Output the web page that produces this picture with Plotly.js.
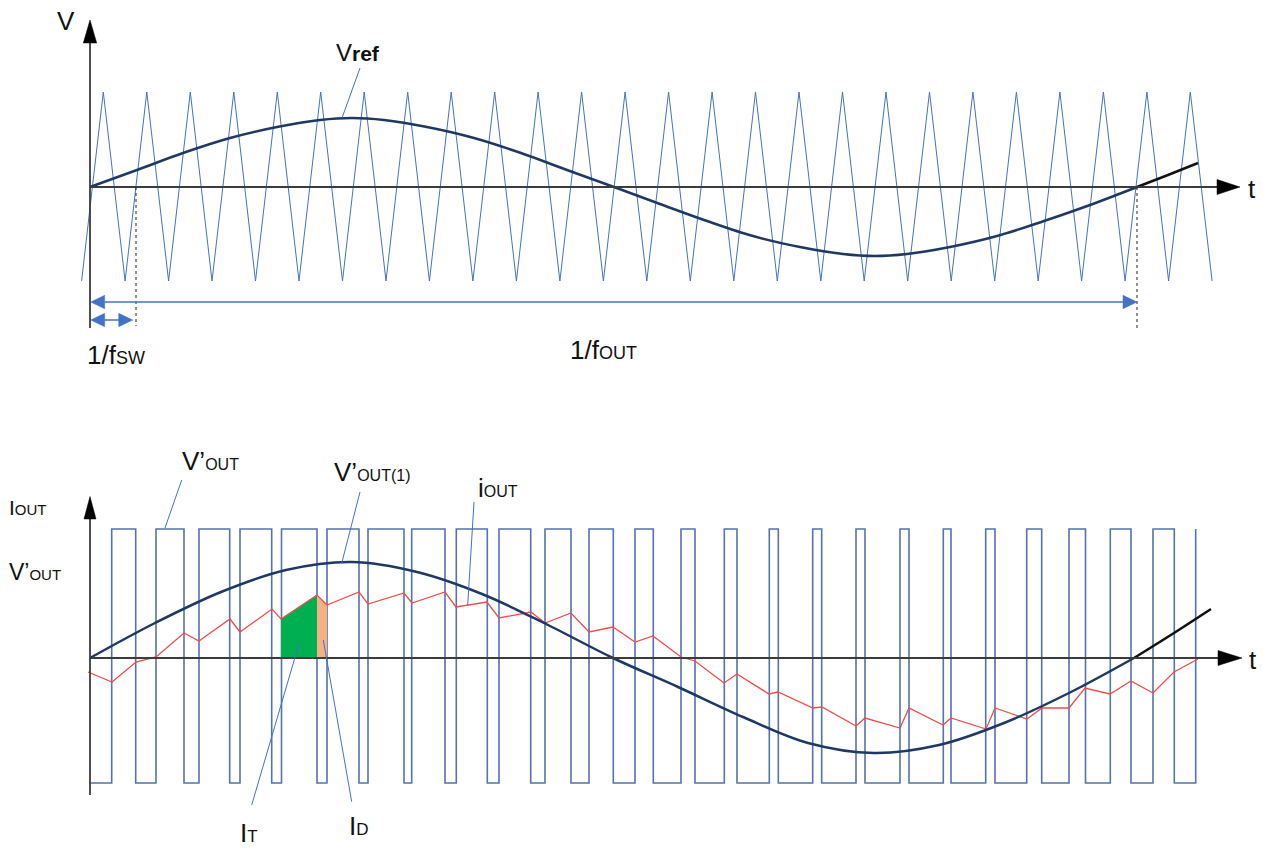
<!DOCTYPE html>
<html><head><meta charset="utf-8">
<script src="https://cdn.plot.ly/plotly-3.0.1.min.js"></script>
<style>html,body{margin:0;padding:0;background:#fff;}#chart{width:1263px;height:849px;}</style>
</head><body><div id="chart"></div>
<script>
// ---------- DATA (time in arbitrary units from origin, amplitudes in arbitrary units) ----------
// Top panel: triangular carrier vertices (valleys and peaks)
const carrierValleyT = [-8.4, 35.1, 78.6, 122.0, 165.5, 209.0, 252.5, 296.0, 339.4, 382.9, 426.4, 469.9, 513.4, 556.8, 600.3, 643.8, 687.3, 730.8, 774.2, 817.7, 861.2, 904.7, 948.2, 991.6, 1035.1, 1078.6, 1122.1];
const carrierPeakT   = [13.3, 56.8, 100.3, 143.8, 187.3, 230.7, 274.2, 317.7, 361.2, 404.7, 448.1, 491.6, 535.1, 578.6, 622.1, 665.5, 709.0, 752.5, 796.0, 839.5, 882.9, 926.4, 969.9, 1013.4, 1056.9, 1100.3];
const carrierHigh = 95;
const carrierLow = -94;
// Top panel: reference sine Vref
const vrefT = [0, 47, 93, 140, 187, 230, 262, 294, 337, 384, 431, 477, 524, 570, 617, 663, 710, 753, 785, 817, 860, 907, 954, 1000, 1047];
const vrefV = [0, 17, 34, 49, 60, 67, 69, 67, 60, 49, 34, 17, 0, -17, -34, -49, -60, -67, -69, -67, -60, -49, -34, -18, 0];
const vrefTailT = [1047, 1078, 1108];
const vrefTailV = [0, 12, 24];
// Bottom panel: PWM output V'OUT switching instants (alternating rise / fall, starting low)
const pwmEdges = [21.7, 45.7, 66, 94, 109, 139.7, 150, 181.7, 191.5, 227, 237, 269, 278, 314, 321.7, 355, 366.3, 397.3, 409, 440.7, 455, 481, 499, 523.3, 545, 563.3, 591, 605, 634.3, 647, 679.3, 688.3, 722.7, 731.7, 766, 775, 810, 819, 853.3, 861, 895.7, 905, 936.7, 951.7, 979, 995.5, 1020.3, 1041, 1063, 1084.3, 1105.7];
const pwmHigh = 129;
const pwmLow = -125;
// Bottom panel: fundamental V'OUT(1)
const voutT = [0, 65, 131, 196, 262, 327, 392, 458, 523, 588, 653, 718, 784, 849, 914, 979, 1044];
const voutV = [0, 35, 66, 88, 96, 86, 64, 33, 0, -29, -59, -85, -95, -87, -65, -35, 0];
const voutTailT = [1044, 1084, 1121];
const voutTailV = [0, 25, 49];
// Bottom panel: output current iOUT
const ioutT = [-2, 22, 46, 66, 94, 109, 140, 150, 182, 191, 227, 237, 269, 278, 314, 322, 355, 366, 397, 409, 441, 455, 481, 499, 523, 545, 563, 591, 605, 634, 647, 679, 688, 723, 732, 766, 775, 810, 819, 853, 861, 896, 905, 937, 952, 979, 995, 1020, 1041, 1063, 1084, 1106, 1108];
const ioutV = [-14, -24, -4, 1, 25, 17, 39, 26, 49, 39, 63, 53, 66, 54, 65, 55, 66, 51, 56, 40, 46, 35, 45, 26, 31, 16, 22, 1, -3, -25, -16, -36, -34, -50, -49, -68, -60, -70, -50, -67, -60, -71, -50, -61, -50, -50, -30, -36, -23, -35, -14, -2, -1];
// indices in iOUT marking transistor (IT) and diode (ID) conduction intervals
const itStart = 9, itEnd = 10, idEnd = 11;
// periods
const tSw = 43;      // 1/fSW
const tOut = 1047;   // 1/fOUT

// ---------- BUILD TRACES ----------
const carT = [], carV = [];
for (let i = 0; i < carrierValleyT.length; i++) {
  carT.push(carrierValleyT[i]); carV.push(carrierLow);
  if (i < carrierPeakT.length) { carT.push(carrierPeakT[i]); carV.push(carrierHigh); }
}
const sqT = [0], sqV = [pwmLow];
let level = pwmLow;
pwmEdges.forEach(e => {
  sqT.push(e); sqV.push(level);
  level = (level === pwmLow) ? pwmHigh : pwmLow;
  sqT.push(e); sqV.push(level);
});

const BLUE = '#4472c4', NAVY = '#1f3864';
const traces = [
  {x: carT, y: carV, xaxis: 'x', yaxis: 'y', mode: 'lines', line: {color: BLUE, width: 1}},
  {x: vrefT, y: vrefV, xaxis: 'x', yaxis: 'y', mode: 'lines', line: {color: NAVY, width: 2.5, shape: 'spline'}},
  {x: vrefTailT, y: vrefTailV, xaxis: 'x', yaxis: 'y', mode: 'lines', line: {color: '#111', width: 2.5, shape: 'spline'}},
  {x: sqT, y: sqV, xaxis: 'x2', yaxis: 'y2', mode: 'lines', line: {color: '#5573ad', width: 1.6}},
  {x: [ioutT[itStart], ioutT[itStart], ioutT[itEnd], ioutT[itEnd]], y: [0, ioutV[itStart], ioutV[itEnd], 0],
   xaxis: 'x2', yaxis: 'y2', mode: 'lines', fill: 'toself', fillcolor: '#00b050', line: {width: 0}},
  {x: [ioutT[itEnd], ioutT[itEnd], ioutT[idEnd], ioutT[idEnd]], y: [0, ioutV[itEnd], ioutV[idEnd], 0],
   xaxis: 'x2', yaxis: 'y2', mode: 'lines', fill: 'toself', fillcolor: '#f4b183', line: {width: 0}},
  {x: ioutT, y: ioutV, xaxis: 'x2', yaxis: 'y2', mode: 'lines', line: {color: '#f24b4b', width: 1.3}},
  {x: voutT, y: voutV, xaxis: 'x2', yaxis: 'y2', mode: 'lines', line: {color: NAVY, width: 2.5, shape: 'spline'}},
  {x: voutTailT, y: voutTailV, xaxis: 'x2', yaxis: 'y2', mode: 'lines', line: {color: '#111', width: 2.5, shape: 'spline'}}
];

// ---------- DECORATIONS ----------
const shapes = [];
function seg(xr, yr, x0, y0, x1, y1, color, width, dash) {
  shapes.push({type: 'line', xref: xr, yref: yr, x0, y0, x1, y1, line: {color, width, dash: dash || 'solid'}});
}
function tri(xr, yr, pts, color) {
  const p = 'M ' + pts.map(q => q[0] + ' ' + q[1]).join(' L ') + ' Z';
  shapes.push({type: 'path', xref: xr, yref: yr, path: p, fillcolor: color, line: {color, width: 0.5}});
}
const AX = '#3c3c3c';
// top axes
seg('x', 'y', 0, 0, 1127, 0, AX, 1.8);
tri('x', 'y', [[1127, 7.5], [1150, 0], [1127, -7.5]], '#000');
seg('x', 'y', 0, -141, 0, 144, AX, 1.8);
tri('x', 'y', [[-6.7, 144], [0, 167], [6.7, 144]], '#000');
// bottom axes
seg('x2', 'y2', 0, 0, 1128, 0, AX, 1.8);
tri('x2', 'y2', [[1128, 7.5], [1152, 0], [1128, -7.5]], '#000');
seg('x2', 'y2', 0, -137, 0, 139, AX, 1.8);
tri('x2', 'y2', [[-6, 139], [0, 161.5], [6, 139]], '#000');
// dashed period markers
seg('x', 'y', tSw + 3, 0, tSw + 3, -139, '#222', 1, '3px,3px');
seg('x', 'y', tOut, 0, tOut, -141, '#222', 1, '3px,3px');
// dimension arrows
function dimArrow(y, x0, x1) {
  seg('x', 'y', x0 + 10, y, x1 - 10, y, BLUE, 1.6);
  tri('x', 'y', [[x0 + 14, y + 6.7], [x0, y], [x0 + 14, y - 6.7]], BLUE);
  tri('x', 'y', [[x1 - 14, y + 6.7], [x1, y], [x1 - 14, y - 6.7]], BLUE);
}
dimArrow(-115, 0.7, tOut);
dimArrow(-133, 0.7, tSw - 0.3);
// leader lines
seg('x', 'y', 270, 119, 252, 69, BLUE, 1);
seg('x2', 'y2', 91.7, 178, 75, 130, BLUE, 1);
seg('x2', 'y2', 270, 166, 251.7, 94.7, BLUE, 1);
seg('x2', 'y2', 384, 156, 377.7, 53, BLUE, 1);
seg('x2', 'y2', 209.3, 15.3, 161.7, -147, BLUE, 1);
seg('x2', 'y2', 233.3, 18, 261.7, -143.7, BLUE, 1);

// labels
const FONT = 'Liberation Sans, Arial, sans-serif';
function lab(xr, yr, x, y, text, size, anchor) {
  return {xref: xr, yref: yr, x, y, text, showarrow: false, xanchor: anchor || 'left', yanchor: 'middle',
          font: {family: FONT, size: size || 26, color: '#111'}};
}
const sub = (s, n) => '<span style="font-size:' + n + 'px">' + s + '</span>';
const annotations = [
  lab('x', 'y', -24, 166, 'V', 26, 'center'),
  lab('x', 'y', 244, 135, 'V' + '<b>' + sub('ref', 21) + '</b>', 24),
  lab('x', 'y', 1162, -2, 't', 26, 'center'),
  lab('x', 'y', -5, -168, '1/f' + sub('SW', 18), 26),
  lab('x', 'y', 478, -163, '1/f' + sub('OUT', 18), 26),
  lab('x2', 'y2', -83, 151, 'I' + sub('OUT', 15), 21),
  lab('x2', 'y2', -83, 86, 'V’' + sub('OUT', 15), 23),
  lab('x2', 'y2', 90, 197, 'V’' + sub('OUT', 16), 26),
  lab('x2', 'y2', 242, 186, 'V’' + sub('OUT(1)', 16), 26),
  lab('x2', 'y2', 386, 170, 'i' + sub('OUT', 16), 26),
  lab('x2', 'y2', 1163, -2, 't', 26, 'center'),
  lab('x2', 'y2', 148, -175, 'I' + sub('T', 17), 26),
  lab('x2', 'y2', 257, -168, 'I' + sub('D', 17), 26)
];

const hidden = {visible: false, showgrid: false, zeroline: false, fixedrange: true, autorange: false};
const layout = {
  width: 1263, height: 849,
  margin: {l: 0, r: 0, t: 0, b: 0},
  paper_bgcolor: '#fff', plot_bgcolor: 'rgba(0,0,0,0)',
  showlegend: false,
  xaxis: Object.assign({}, hidden, {domain: [0, 1], range: [-90, 1173], anchor: 'y'}),
  yaxis: Object.assign({}, hidden, {domain: [0.5, 1], range: [-237.5, 187], anchor: 'x'}),
  xaxis2: Object.assign({}, hidden, {domain: [0, 1], range: [-90, 1173], anchor: 'y2'}),
  yaxis2: Object.assign({}, hidden, {domain: [0, 0.5], range: [-191, 233.5], anchor: 'x2'}),
  shapes, annotations
};
Plotly.newPlot('chart', traces, layout, {staticPlot: true, displayModeBar: false});
</script></body></html>
